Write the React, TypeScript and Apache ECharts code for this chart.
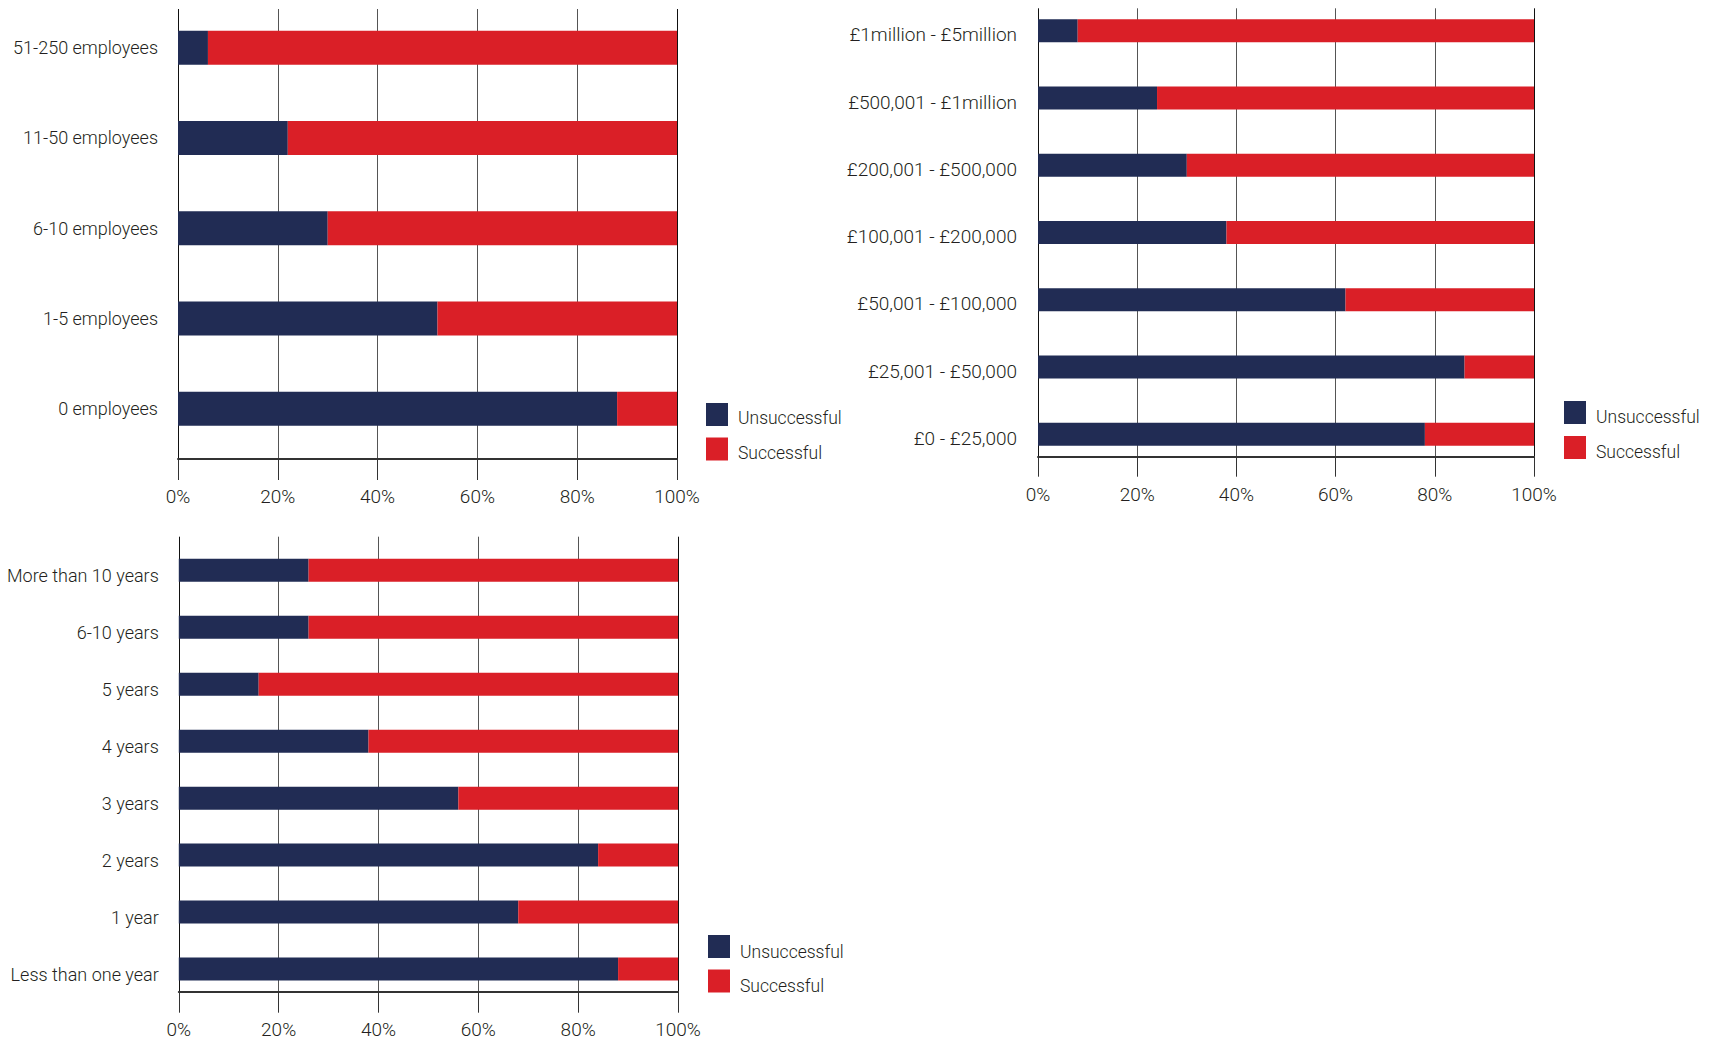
import React, { useEffect, useRef } from "react";
import * as echarts from "echarts";

const seriesNames = ["Unsuccessful", "Successful"];
const percentTicks = [0, 20, 40, 60, 80, 100];

const empCategories = ["51-250 employees", "11-50 employees", "6-10 employees", "1-5 employees", "0 employees"];
const empUnsuccessful = [6, 22, 30, 52, 88];
const empSuccessful = [94, 78, 70, 48, 12];

const turnoverCategories = [
  "£1million - £5million",
  "£500,001 - £1million",
  "£200,001 - £500,000",
  "£100,001 - £200,000",
  "£50,001 - £100,000",
  "£25,001 - £50,000",
  "£0 - £25,000",
];
const turnoverUnsuccessful = [8, 24, 30, 38, 62, 86, 78];
const turnoverSuccessful = [92, 76, 70, 62, 38, 14, 22];

const ageCategories = [
  "More than 10 years",
  "6-10 years",
  "5 years",
  "4 years",
  "3 years",
  "2 years",
  "1 year",
  "Less than one year",
];
const ageUnsuccessful = [26, 26, 16, 38, 56, 84, 68, 88];
const ageSuccessful = [74, 74, 84, 62, 44, 16, 32, 12];

const FONT = "Roboto, 'DejaVu Sans', sans-serif";
const TEXT = "#231f20";
const NAVY = "#212c54";
const RED = "#da1f27";

type Panel = {
  cats: string[];
  uns: number[];
  suc: number[];
  left: number;
  width: number;
  barTop: number;
  barHeight: number;
  gridTop: number;
  gridHeight: number;
  tickLen: number;
  barWidth: number;
  labelMargin: number;
  labelSize: number;
  labelShift: number;
  legendLeft: number;
  legendTop: number;
  legendShift: number;
  legendGap: number;
};

const panels: Panel[] = [
  {
    cats: empCategories, uns: empUnsuccessful, suc: empSuccessful,
    left: 178, width: 499, barTop: 2.6, barHeight: 451.2,
    gridTop: 9, gridHeight: 450, tickLen: 21, barWidth: 34, labelMargin: 20, labelSize: 18, labelShift: 0,
    legendLeft: 706, legendTop: 403, legendShift: 3.5, legendGap: 10.5,
  },
  {
    cats: turnoverCategories, uns: turnoverUnsuccessful, suc: turnoverSuccessful,
    left: 1038, width: 496, barTop: -2.9, barHeight: 470.9,
    gridTop: 8.3, gridHeight: 448.4, tickLen: 20, barWidth: 23, labelMargin: 21, labelSize: 19, labelShift: 4,
    legendLeft: 1564, legendTop: 401, legendShift: 4.5, legendGap: 10,
  },
  {
    cats: ageCategories, uns: ageUnsuccessful, suc: ageSuccessful,
    left: 178.8, width: 499.2, barTop: 541.8, barHeight: 455.7,
    gridTop: 536.7, gridHeight: 455, tickLen: 21, barWidth: 23, labelMargin: 20, labelSize: 18, labelShift: 5,
    legendLeft: 708, legendTop: 935, legendShift: 5, legendGap: 9,
  },
];

function buildOption() {
  const grid: any[] = [];
  const xAxis: any[] = [];
  const yAxis: any[] = [];
  const series: any[] = [];
  const legend: any[] = [];

  panels.forEach((p, i) => {
    grid.push({ left: p.left, width: p.width, top: p.barTop, height: p.barHeight, containLabel: false, outerBoundsMode: "none" });
    grid.push({ left: p.left, width: p.width, top: p.gridTop, height: p.gridHeight, containLabel: false, outerBoundsMode: "none" });
    const gA = i * 2;
    const gB = i * 2 + 1;

    xAxis.push({ type: "value", gridIndex: gA, min: 0, max: 100, interval: 20, show: false });
    xAxis.push({
      type: "value",
      gridIndex: gB,
      min: percentTicks[0],
      max: percentTicks[percentTicks.length - 1],
      interval: 20,
      axisLine: { show: true, lineStyle: { color: "#333", width: 2 } },
      axisTick: { show: true, length: p.tickLen, lineStyle: { color: "#333", width: 1 } },
      splitLine: {
        show: true,
        lineStyle: { color: ["#111", "#555", "#555", "#555", "#555", "#111"], width: 1 },
      },
      axisLabel: {
        show: true,
        margin: 28,
        fontFamily: FONT,
        fontWeight: 300,
        fontSize: 19,
        color: TEXT,
        formatter: (v: number) => `${v}%`,
      },
    });

    yAxis.push({
      type: "category",
      gridIndex: gA,
      data: p.cats,
      inverse: true,
      axisLine: { show: false },
      axisTick: { show: false },
      splitLine: { show: false },
      axisLabel: {
        margin: p.labelMargin,
        fontFamily: FONT,
        fontWeight: 300,
        fontSize: p.labelSize,
        color: TEXT,
        formatter: (v: string) => `{t|${v}}`,
        rich: {
          t: {
            fontFamily: FONT,
            fontWeight: 300,
            fontSize: p.labelSize,
            color: TEXT,
            padding: [p.labelShift * 2, 0, 0, 0],
          },
        },
      },
    });
    yAxis.push({ type: "value", gridIndex: gB, min: 0, max: 1, show: false });

    series.push({
      name: seriesNames[0],
      type: "bar",
      stack: `s${i}`,
      xAxisIndex: gA,
      yAxisIndex: gA,
      barWidth: p.barWidth,
      itemStyle: { color: NAVY },
      data: p.uns,
    });
    series.push({
      name: seriesNames[1],
      type: "bar",
      stack: `s${i}`,
      xAxisIndex: gA,
      yAxisIndex: gA,
      barWidth: p.barWidth,
      itemStyle: { color: RED },
      data: p.suc,
    });

    legend.push({
      data: seriesNames,
      orient: "vertical",
      left: p.legendLeft,
      top: p.legendTop,
      padding: 0,
      itemWidth: 22,
      itemHeight: 23,
      itemGap: p.legendGap,
      icon: "rect",
      selectedMode: false,
      formatter: "{t|{name}}",
      textStyle: {
        fontFamily: FONT,
        fontWeight: 300,
        fontSize: 17.5,
        color: TEXT,
        rich: {
          t: {
            fontFamily: FONT,
            fontWeight: 300,
            fontSize: 17.5,
            color: TEXT,
            padding: [p.legendShift * 2, 0, 0, 5],
          },
        },
      },
    });
  });

  return {
    animation: false,
    backgroundColor: "#ffffff",
    grid,
    xAxis,
    yAxis,
    series,
    legend,
  };
}

export default function App() {
  const ref = useRef<HTMLDivElement>(null);
  useEffect(() => {
    if (!ref.current) return;
    const chart = echarts.init(ref.current, undefined, { renderer: "svg" });
    chart.setOption(buildOption() as any);
    return () => chart.dispose();
  }, []);
  return (
    <div
      ref={ref}
      style={{ position: "absolute", left: 0, top: 0, width: 1713, height: 1043, background: "#fff" }}
    />
  );
}
